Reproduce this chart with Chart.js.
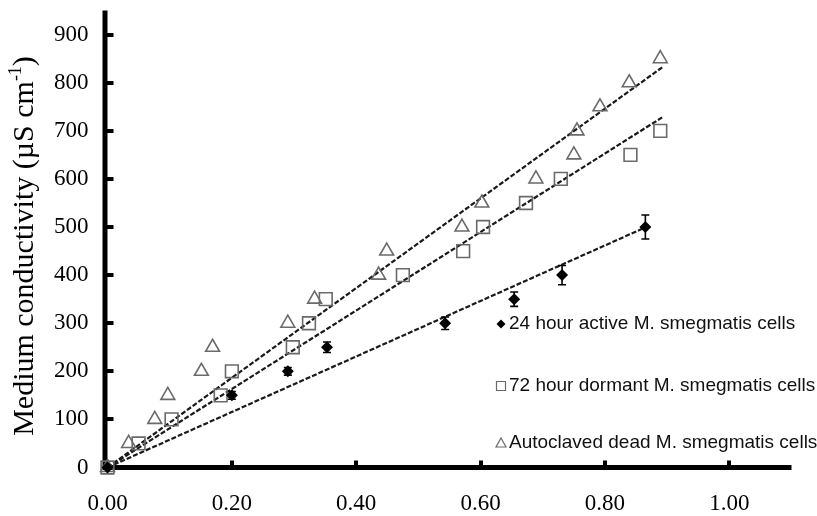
<!DOCTYPE html>
<html>
<head>
<meta charset="utf-8">
<script src="https://cdn.jsdelivr.net/npm/chart.js@4.4.0/dist/chart.umd.min.js"></script>
<style>
html, body { margin: 0; padding: 0; background: #fff; }
#wrap { width: 817px; height: 516px; position: relative; }
</style>
</head>
<body>
<div id="wrap"><canvas id="condChart"></canvas></div>
<script>
// -----------------------------
// DATA
// -----------------------------
const activeX = [0, 0.200, 0.290, 0.353, 0.543, 0.654, 0.731, 0.865];
const activeY = [0, 150, 200, 250, 300, 350, 400, 500];
const activeErr = [0, 8, 8, 11, 13, 15, 20, 25];

const dormantX = [0, 0.050, 0.103, 0.182, 0.200, 0.298, 0.324, 0.351, 0.475, 0.572, 0.604, 0.673, 0.729, 0.841, 0.889];
const dormantY = [0, 50, 100, 150, 200, 250, 300, 350, 400, 450, 500, 550, 600, 650, 700];

const deadX = [0, 0.034, 0.076, 0.097, 0.151, 0.169, 0.290, 0.333, 0.436, 0.449, 0.570, 0.602, 0.689, 0.750, 0.755, 0.792, 0.839, 0.889];
const deadY = [0, 50, 100, 150, 200, 250, 300, 350, 400, 450, 500, 550, 600, 650, 700, 750, 800, 850];

// trend lines (start / end)
const activeFitX = [0, 0.868];
const activeFitY = [0, 501];
const dormantFitX = [0, 0.892];
const dormantFitY = [0, 728];
const deadFitX = [0, 0.892];
const deadFitY = [0, 832];

const xTicks = [0, 0.2, 0.4, 0.6, 0.8, 1.0];
const yTicks = [0, 100, 200, 300, 400, 500, 600, 700, 800, 900];

const legendLabels = [
    "24 hour active M. smegmatis cells",
    "72 hour dormant M. smegmatis cells",
    "Autoclaved dead M. smegmatis cells"
];

const yTitle = "Medium conductivity (\u00B5S cm";
const yTitleSup = "-1";

// -----------------------------
// HELPERS
// -----------------------------
function toPoints(xs, ys) {
    return xs.map((x, i) => ({ x: x, y: ys[i] }));
}

function fixTicks(values) {
    return function (scale) {
        scale.ticks = values.map(v => ({ value: v }));
    };
}

const GREY = "#6a6a6a";
const SERIF = "'Liberation Serif', 'Times New Roman', serif";

// -----------------------------
// PLUGINS
// -----------------------------
const axesPlugin = {
    id: "axes",

    beforeDatasetsDraw(chart) {

        const ctx = chart.ctx;
        const xs = chart.scales.x;
        const ys = chart.scales.y;
        const area = chart.chartArea;

        ctx.save();
        ctx.strokeStyle = "#000";
        ctx.lineWidth = 5;

        // axis lines
        ctx.beginPath();
        ctx.moveTo(area.left - 2.5, area.top);
        ctx.lineTo(area.left - 2.5, area.bottom + 2.5);
        ctx.moveTo(area.left - 5, area.bottom);
        ctx.lineTo(area.right, area.bottom);
        ctx.stroke();

        // inward tick marks
        ctx.lineWidth = 4;
        yTicks.forEach(v => {
            if (v === 0) return;
            const py = Math.round(ys.getPixelForValue(v));
            ctx.beginPath();
            ctx.moveTo(area.left - 1, py);
            ctx.lineTo(area.left + 6, py);
            ctx.stroke();
        });
        xTicks.forEach(v => {
            if (v === 0) return;
            const px = Math.round(xs.getPixelForValue(v));
            ctx.beginPath();
            ctx.moveTo(px, area.bottom);
            ctx.lineTo(px, area.bottom - 7);
            ctx.stroke();
        });

        ctx.restore();
    }
};

const extrasPlugin = {
    id: "extras",

    afterDatasetsDraw(chart) {

        const ctx = chart.ctx;
        const xs = chart.scales.x;
        const ys = chart.scales.y;

        ctx.save();

        // error bars on active cells
        ctx.lineWidth = 1.6;
        ctx.strokeStyle = "#000";
        activeX.forEach((x, i) => {
            const e = activeErr[i];
            if (!e) return;
            const px = xs.getPixelForValue(x);
            const top = ys.getPixelForValue(activeY[i] + e);
            const bot = ys.getPixelForValue(activeY[i] - e);
            ctx.beginPath();
            ctx.moveTo(px, top);
            ctx.lineTo(px, bot);
            ctx.moveTo(px - 4, top);
            ctx.lineTo(px + 4, top);
            ctx.moveTo(px - 4, bot);
            ctx.lineTo(px + 4, bot);
            ctx.stroke();
        });

        // legend
        const rows = [324, 386, 443];
        ctx.font = "19px 'Liberation Sans', Arial, sans-serif";
        ctx.textBaseline = "middle";
        ctx.textAlign = "left";
        legendLabels.forEach((label, i) => {
            const y = rows[i];
            const mx = 501;
            ctx.beginPath();
            if (i === 0) {
                ctx.fillStyle = "#000";
                ctx.moveTo(mx - 4.5, y);
                ctx.lineTo(mx, y - 4.5);
                ctx.lineTo(mx + 4.5, y);
                ctx.lineTo(mx, y + 4.5);
                ctx.closePath();
                ctx.fill();
            } else if (i === 1) {
                ctx.strokeStyle = GREY;
                ctx.lineWidth = 1.2;
                ctx.rect(mx - 4.5, y - 4.5, 9, 9);
                ctx.stroke();
            } else {
                ctx.strokeStyle = GREY;
                ctx.lineWidth = 1.2;
                ctx.moveTo(mx, y - 5);
                ctx.lineTo(mx + 5, y + 4);
                ctx.lineTo(mx - 5, y + 4);
                ctx.closePath();
                ctx.stroke();
            }
            ctx.fillStyle = "#111";
            ctx.fillText(label, mx + 8, y);
        });

        // y axis title with superscript
        ctx.translate(25, 246);
        ctx.rotate(-Math.PI / 2);
        ctx.fillStyle = "#000";
        ctx.textBaseline = "middle";
        const mainFont = "30px " + SERIF;
        const supFont = "18px " + SERIF;
        ctx.font = mainFont;
        const w1 = ctx.measureText(yTitle).width;
        const w3 = ctx.measureText(")").width;
        ctx.font = supFont;
        const w2 = ctx.measureText(yTitleSup).width;
        const start = -(w1 + w2 + w3) / 2;
        ctx.font = mainFont;
        ctx.fillText(yTitle, start, 0);
        ctx.font = supFont;
        ctx.fillText(yTitleSup, start + w1, -9);
        ctx.font = mainFont;
        ctx.fillText(")", start + w1 + w2, 0);

        ctx.restore();
    }
};

// -----------------------------
// CHART
// -----------------------------
function buildChart() {

    const ctx = document.getElementById("condChart").getContext("2d");

    const fitStyle = {
        showLine: true,
        pointRadius: 0,
        borderColor: "#1a1a1a",
        borderWidth: 2.2,
        borderDash: [5, 2],
        fill: false
    };

    return new Chart(ctx, {
        type: "scatter",
        data: {
            datasets: [
                {
                    label: legendLabels[0],
                    data: toPoints(activeX, activeY),
                    pointStyle: "rectRot",
                    pointRadius: 6,
                    backgroundColor: "#000",
                    borderColor: "#000",
                    borderWidth: 0,
                    clip: false
                },
                {
                    label: legendLabels[1],
                    data: toPoints(dormantX, dormantY),
                    pointStyle: "rect",
                    pointRadius: 9,
                    backgroundColor: "rgba(0,0,0,0)",
                    borderColor: GREY,
                    borderWidth: 1.6,
                    clip: false
                },
                {
                    label: legendLabels[2],
                    data: toPoints(deadX, deadY),
                    pointStyle: "triangle",
                    pointRadius: 8,
                    backgroundColor: "rgba(0,0,0,0)",
                    borderColor: GREY,
                    borderWidth: 1.6,
                    clip: false
                },
                Object.assign({ label: "fit active", data: toPoints(activeFitX, activeFitY) }, fitStyle),
                Object.assign({ label: "fit dormant", data: toPoints(dormantFitX, dormantFitY) }, fitStyle),
                Object.assign({ label: "fit dead", data: toPoints(deadFitX, deadFitY) }, fitStyle)
            ]
        },
        options: {
            responsive: true,
            maintainAspectRatio: false,
            animation: false,
            layout: { padding: { left: 0, right: 25.5, top: 10, bottom: 0 } },
            plugins: {
                legend: { display: false },
                tooltip: { enabled: false }
            },
            scales: {
                x: {
                    type: "linear",
                    min: 0,
                    max: 1.1,
                    afterBuildTicks: fixTicks(xTicks),
                    afterFit(scale) {
                        scale.height = 48.5;
                        scale.paddingLeft = 0;
                        scale.paddingRight = 0;
                    },
                    grid: { display: false, drawTicks: false },
                    border: { display: false },
                    ticks: {
                        padding: 23,
                        color: "#000",
                        font: { family: SERIF, size: 23 },
                        callback: v => Number(v).toFixed(2)
                    }
                },
                y: {
                    type: "linear",
                    min: 0,
                    max: 950,
                    afterBuildTicks: fixTicks(yTicks),
                    afterFit(scale) {
                        scale.width = 107.5;
                        scale.paddingTop = 0;
                        scale.paddingBottom = 0;
                    },
                    grid: { display: false, drawTicks: false },
                    border: { display: false },
                    ticks: {
                        padding: 19,
                        color: "#000",
                        font: { family: SERIF, size: 23 }
                    }
                }
            }
        },
        plugins: [axesPlugin, extrasPlugin]
    });
}

// -----------------------------
// START
// -----------------------------
document.addEventListener("DOMContentLoaded", buildChart);
</script>
</body>
</html>
